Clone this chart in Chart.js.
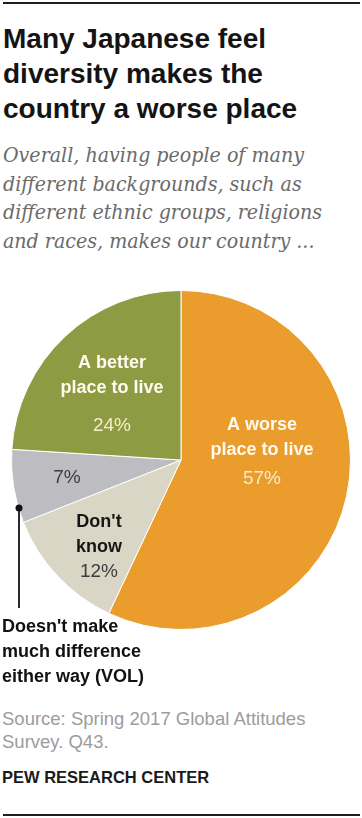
<!DOCTYPE html>
<html>
<head>
<meta charset="utf-8">
<script src="https://cdn.jsdelivr.net/npm/chart.js@4.4.1/dist/chart.umd.min.js"></script>
<style>
  body { margin: 0; background: #fff; width: 362px; height: 818px; position: relative; overflow: hidden; }
  .rule { position: absolute; left: 3px; width: 357px; height: 2px; background: #1f1f1f; }
  .title { position: absolute; left: 3px; top: 21px; font: bold 28px "Liberation Sans", Arial, sans-serif; line-height: 35px; color: #141414; white-space: nowrap; }
  .sub { position: absolute; left: 3px; top: 141px; font: italic 20px "DejaVu Serif", serif; line-height: 28.7px; color: #6a6a6a; white-space: nowrap; transform-origin: 0 0; }
  .vol { position: absolute; left: 2px; top: 614px; font: bold 18px "Liberation Sans", Arial, sans-serif; line-height: 25px; color: #111; white-space: nowrap; }
  .source { position: absolute; left: 2px; top: 707px; font: 18.5px "Liberation Sans", Arial, sans-serif; line-height: 23px; color: #9c9c9c; white-space: nowrap; }
  .pew { position: absolute; left: 2px; top: 767px; font: bold 16.5px "Liberation Sans", Arial, sans-serif; line-height: 20px; color: #1a1a1a; white-space: nowrap; }
  #wrap { position: absolute; left: 0; top: 280px; width: 362px; height: 360px; }
</style>
</head>
<body>
<div class="rule" style="top:2px"></div>
<div class="title">Many Japanese feel<br>diversity makes the<br>country a worse place</div>
<div class="sub" id="sub">Overall, having people of many<br>different backgrounds, such as<br>different ethnic groups, religions<br>and races, makes our country ...</div>
<div id="wrap"><canvas id="pie"></canvas></div>
<div class="vol">Doesn't make<br>much difference<br>either way (VOL)</div>
<div class="source">Source: Spring 2017 Global Attitudes<br>Survey. Q43.</div>
<div class="pew">PEW RESEARCH CENTER</div>
<div class="rule" style="top:814px"></div>

<script>
// data
const categories = ['A worse place to live', "Don't know", "Doesn't make much difference either way (VOL)", 'A better place to live'];
const values = [57, 12, 7, 24];
const colors = ['#EA9C2D', '#DAD6C5', '#BDBDC1', '#8D9B42'];

// squeeze the italic subtitle to the width of the original
const sub = document.getElementById('sub');
sub.style.transform = 'scaleX(' + (319 / sub.scrollWidth) + ')';

// in-pie labels, placed relative to the pie centre (dx, dy of baseline)
const labelSpecs = [
  { lines: ['A worse', 'place to live'], dx: 81, dy: -30, color: '#fffbf0', pctColor: '#f6eccb', pctDy: 24 },
  { lines: ["Don't", 'know'], dx: -82, dy: 67, color: '#151515', pctColor: '#3c3c3c', pctDy: 117 },
  { lines: [], dx: -114, dy: 23, color: '#333', pctColor: '#3c3c3c', pctDy: 23 },
  { lines: ['A better', 'place to live'], dx: -69, dy: -92, color: '#fffbf0', pctColor: '#f6eccb', pctDy: -29 }
];

const pieLabels = {
  id: 'pieLabels',
  afterDraw(chart) {
    const ctx = chart.ctx;
    const arc = chart.getDatasetMeta(0).data[0];
    const cx = arc.x, cy = arc.y;
    ctx.save();
    ctx.textAlign = 'center';
    ctx.textBaseline = 'alphabetic';
    labelSpecs.forEach((s, i) => {
      ctx.fillStyle = s.color;
      ctx.font = 'bold 18px "Liberation Sans", Arial, sans-serif';
      s.lines.forEach((t, j) => ctx.fillText(t, cx + s.dx, cy + s.dy + j * 25));
      ctx.fillStyle = s.pctColor;
      ctx.font = '19px "Liberation Sans", Arial, sans-serif';
      ctx.fillText(values[i] + '%', cx + s.dx, cy + s.pctDy);
    });
    // leader for the 7% slice
    ctx.strokeStyle = '#2a2a2a';
    ctx.lineWidth = 2;
    ctx.beginPath();
    ctx.moveTo(cx - 162, cy + 48);
    ctx.lineTo(cx - 162, cy + 148);
    ctx.stroke();
    ctx.fillStyle = '#111';
    ctx.beginPath();
    ctx.arc(cx - 162, cy + 48, 3.5, 0, Math.PI * 2);
    ctx.fill();
    ctx.restore();
  }
};

new Chart(document.getElementById('pie'), {
  type: 'pie',
  data: {
    labels: categories,
    datasets: [{
      data: values,
      backgroundColor: colors,
      borderColor: '#ffffff',
      borderWidth: 1
    }]
  },
  options: {
    responsive: true,
    maintainAspectRatio: false,
    animation: false,
    layout: { padding: { top: 10, bottom: 10 } },
    plugins: {
      legend: { display: false },
      tooltip: { enabled: false }
    }
  },
  plugins: [pieLabels]
});
</script>
</body>
</html>
